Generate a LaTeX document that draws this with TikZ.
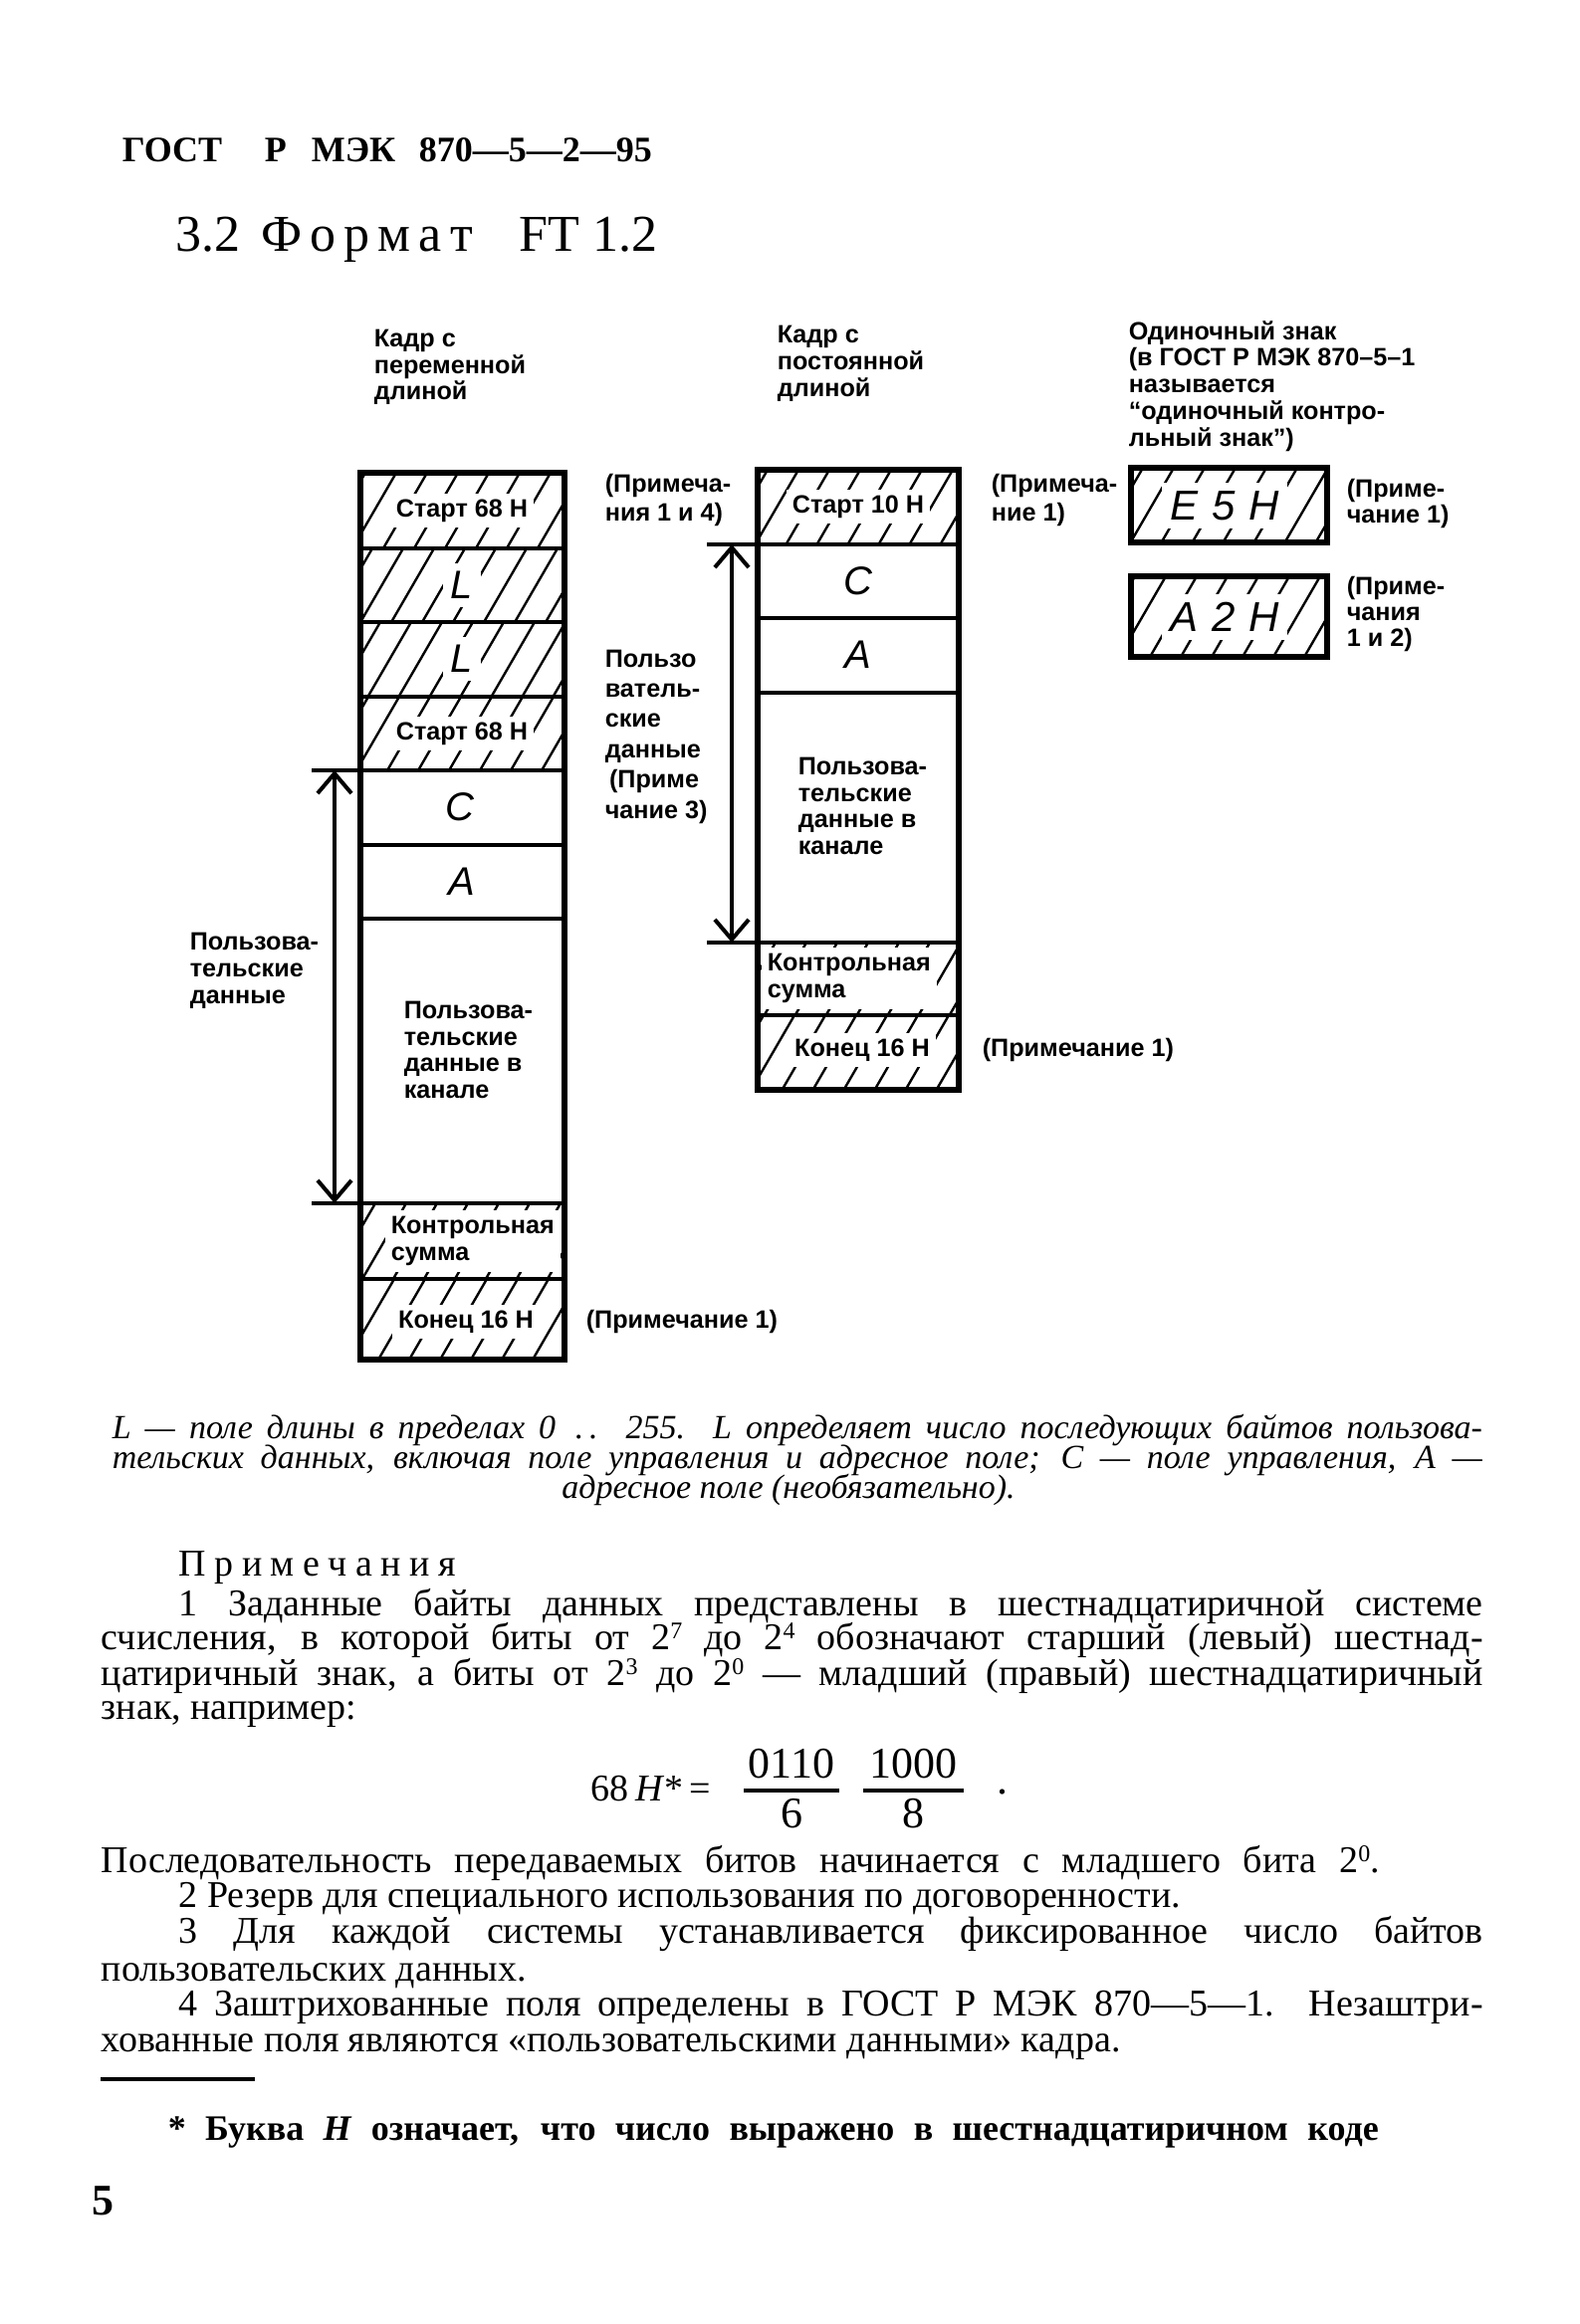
\documentclass[tikz,border=0pt]{standalone}
\usepackage{fontspec}
\usepackage{graphicx}
\setmainfont{Liberation Serif}
\setsansfont{Liberation Sans}
\newfontfamily\bodyfont{Liberation Serif}
\usetikzlibrary{arrows.meta}

\newcommand{\supnum}[1]{\raisebox{0.62ex}{\fontsize{6}{6}\selectfont #1}}

\tikzset{
  frame/.style={line width=1.3pt},
  divider/.style={line width=1pt},
  hatchline/.style={line width=0.6pt},
  lab/.style={font=\sffamily\bfseries\fontsize{6.3}{#1}\selectfont, align=left, inner sep=0pt, anchor=west},
  lab/.default=6.7,
  intext/.style={font=\sffamily\bfseries\fontsize{6.3}{6.7}\selectfont, align=left, fill=white, inner sep=1.5pt},
  letter/.style={font=\sffamily\itshape\fontsize{10}{12}\selectfont, fill=white, inner sep=2pt},
  bigletter/.style={font=\sffamily\itshape\fontsize{10.5}{12}\selectfont, fill=white, inner sep=2pt},
  bodyline/.style={font=\bodyfont\fontsize{9.5}{11}\selectfont, inner sep=0pt, anchor=mid west},
  capline/.style={font=\bodyfont\itshape\fontsize{8.5}{10}\selectfont, inner sep=0pt, anchor=mid west},
  headtext/.style={font=\bfseries\fontsize{9}{11}\selectfont, anchor=mid west, inner sep=0pt},
  titletext/.style={font=\fontsize{13}{15}\selectfont, anchor=mid west, inner sep=0pt},
  fractext/.style={font=\bodyfont\fontsize{11}{13}\selectfont, inner sep=0pt},
  dimarrow/.style={line width=1pt, {Straight Barb[length=5pt,width=8.5pt]}-{Straight Barb[length=5pt,width=8.5pt]}},
}

\newcommand{\hatchzone}[5]{%
  \begin{scope}
    \clip (#1,#2) rectangle (#3,#4);
    \pgfmathsetmacro{\hh}{#4-#2}
    \pgfmathsetmacro{\dd}{0.58*\hh}
    \foreach \k in {0,...,11}{
      \draw[hatchline] ({#1-\dd+#5+\k*31},#4) -- ++(\dd,-\hh);
    }
  \end{scope}}

\begin{document}
\begin{tikzpicture}[x=0.25pt,y=-0.25pt]
\fill[white] (0,0) rectangle (1586,2335);
\useasboundingbox (0,0) rectangle (1586,2335);

% ---------- heading ----------
\node[headtext] (h1) at (122,153) {ГОСТ};
\node[headtext] (h2) at (265,153) {Р};
\node[headtext] (h3) at (312,153) {МЭК};
\node[headtext] (h4) at (420,153) {870—5—2—95};

\node[titletext] (t1) at (176,243) {3.2};
\node[titletext] (t2) at (262,243) {\makebox[53pt]{Ф\hfill о\hfill р\hfill м\hfill а\hfill т}};
\node[titletext] (t3) at (521,243) {FT 1.2};

% ---------- column titles ----------
\node[lab=6.6] (ttl1) at (375,369) {Кадр с\\переменной\\длиной};
\node[lab=6.75] (ttl2) at (780,365) {Кадр с\\постоянной\\длиной};
\node[lab=6.7] (ttl3) at (1133,388) {Одиночный знак\\(в ГОСТ Р МЭК 870–5–1\\называется\\“одиночный контро-\\льный знак”)};

% ---------- hatching ----------
\hatchzone{362}{475}{567}{551}{5}
\hatchzone{362}{551}{567}{625}{12}
\hatchzone{362}{625}{567}{700}{20}
\hatchzone{362}{700}{567}{774}{8}
\hatchzone{362}{1209}{567}{1285}{15}
\hatchzone{362}{1285}{567}{1366}{3}
\hatchzone{761}{472}{963}{547}{10}
\hatchzone{761}{947}{963}{1020}{18}
\hatchzone{761}{1020}{963}{1095}{6}
\hatchzone{1136}{470}{1333}{545}{12}
\hatchzone{1136}{579}{1333}{660}{4}

% ---------- left frame texts ----------
\node[intext] (a1) at (464,513) {Старт 68 Н};
\node[letter] (a2) at (464,588) {L};
\node[letter] (a3) at (464,662) {L};
\node[intext] (a4) at (464,737) {Старт 68 Н};
\node[letter] (a5) at (462,811) {C};
\node[letter] (a6) at (464,886) {A};
\node[lab=6.67] (a7) at (405,1055) {Пользова-\\тельские\\данные в\\канале};
\node[intext, anchor=west] (a8) at (386,1247) {Контрольная\\сумма};
\node[intext] (a9) at (468,1328) {Конец 16 Н};

% ---------- middle frame texts ----------
\node[intext] (b1) at (862,509) {Старт 10 Н};
\node[letter] (b2) at (862,584) {C};
\node[letter] (b3) at (862,658) {A};
\node[lab=6.67] (b4) at (801,810) {Пользова-\\тельские\\данные в\\канале};
\node[intext, anchor=west] (b5) at (764,983) {Контрольная\\сумма};
\node[intext] (b6) at (866,1055) {Конец 16 Н};

% ---------- single characters ----------
\node[bigletter] (c1) at (1230,508) {E\,\,5\,\,H};
\node[bigletter] (c2) at (1230,620) {A\,\,2\,\,H};

% ---------- frames ----------
\draw[frame] (362,475) rectangle (567,1366);
\foreach \yy in {551,625,700,849,923,1285}{\draw[divider] (362,\yy) -- (567,\yy);}
\coordinate (LTe) at (313,774);
\coordinate (LBe) at (313,1209);
\draw[divider] (LTe) -- (567,774);
\draw[divider] (LBe) -- (567,1209);

\draw[frame] (761,472) rectangle (963,1095);
\foreach \yy in {621,696,1020}{\draw[divider] (761,\yy) -- (963,\yy);}
\coordinate (MTe) at (710,547);
\coordinate (MBe) at (710,947);
\draw[divider] (MTe) -- (963,547);
\draw[divider] (MBe) -- (963,947);

\draw[frame] (1136,470) rectangle (1333,545);
\draw[frame] (1136,579) rectangle (1333,660);

% ---------- dimension arrows ----------
\coordinate (LT) at (336,774);
\coordinate (LB) at (336,1209);
\draw[dimarrow] (LT) -- (LB);
\coordinate (MT) at (735,547);
\coordinate (MB) at (735,947);
\draw[dimarrow] (MT) -- (MB);

% ---------- side labels ----------
\node[lab=7.25] (n1) at (607,502) {(Примеча-\\ния 1 и 4)};
\node[lab=7.6] (n2) at (607,740) {Пользо\\ватель-\\ские\\данные\\\,(Приме\\чание 3)};
\node[lab=6.75] (n3) at (190,975) {Пользова-\\тельские\\данные};
\node[lab] (n4) at (588,1328) {(Примечание 1)};
\node[lab=7.25] (n5) at (995,502) {(Примеча-\\ние 1)};
\node[lab] (n6) at (986,1055) {(Примечание 1)};
\node[lab=6.6] (n7) at (1352,506) {(Приме-\\чание 1)};
\node[lab=6.6] (n8) at (1352,617) {(Приме-\\чания\\1 и 2)};

% ---------- caption ----------
\node[capline] (cap1) at (112,1436) {\makebox[344pt][s]{\textit{L} — поле длины в пределах 0\, .\,. 255. \textit{L} определяет число последующих байтов пользова-}};
\node[capline] (cap2) at (112,1466) {\makebox[344pt][s]{тельских данных, включая поле управления и адресное поле; \textit{C} — поле управления, \textit{A} —}};
\node[capline, anchor=mid] (cap3) at (792,1496) {адресное поле (необязательно).};

% ---------- notes ----------
\node[bodyline] (p0) at (179,1574) {\makebox[69.5pt]{П\hfill р\hfill и\hfill м\hfill е\hfill ч\hfill а\hfill н\hfill и\hfill я}};
\node[bodyline] (p1) at (179,1614) {\makebox[327.5pt][s]{1 Заданные байты данных представлены в шестнадцатиричной системе}};
\node[bodyline] (p2) at (101,1648) {\makebox[347pt][s]{счисления, в которой биты от 2\supnum{7} до 2\supnum{4} обозначают старший (левый) шестнад-}};
\node[bodyline] (p3) at (101,1684) {\makebox[347pt][s]{цатиричный знак, а биты от 2\supnum{3} до 2\supnum{0} — младший (правый) шестнадцатиричный}};
\node[bodyline] (p4) at (101,1718) {знак, например:};

\node[bodyline] (f0) at (593,1800) {68\,\textit{H}*\,=};
\node[fractext] (fn1) at (795,1772) {0110};
\node[fractext] (fd1) at (795,1822) {6};
\node[fractext] (fn2) at (917,1772) {1000};
\node[fractext] (fd2) at (917,1822) {8};
\coordinate (b1l) at (747,1799); \coordinate (b1r) at (843,1799);
\coordinate (b2l) at (867,1799); \coordinate (b2r) at (968,1799);
\draw[line width=0.9pt] (b1l) -- (b1r);
\draw[line width=0.9pt] (b2l) -- (b2r);
\node[fractext] (fdot) at (1007,1800) {.};

\node[bodyline] (p5) at (101,1872) {\makebox[321pt][s]{Последовательность передаваемых битов начинается с младшего бита 2\supnum{0}.}};
\node[bodyline] (p6) at (179,1907) {2 Резерв для специального использования по договоренности.};
\node[bodyline] (p7) at (179,1943) {\makebox[327.5pt][s]{3 Для каждой системы устанавливается фиксированное число байтов}};
\node[bodyline] (p8) at (101,1981) {пользовательских данных.};
\node[bodyline] (p9) at (179,2016) {\makebox[327.5pt][s]{4 Заштрихованные поля определены в ГОСТ Р МЭК 870—5—1. Незаштри-}};
\node[bodyline] (p10) at (101,2052) {хованные поля являются «пользовательскими данными» кадра.};

\coordinate (rl) at (101,2089); \coordinate (rr) at (256,2089);
\draw[line width=1.1pt] (rl) -- (rr);

\node[bodyline, font=\bodyfont\bfseries\fontsize{9}{11}\selectfont] (fn) at (168,2141) {\makebox[304pt][s]{* Буква \textit{H} означает, что число выражено в шестнадцатиричном коде}};

\node[font=\bfseries\fontsize{11}{13}\selectfont, anchor=mid west, inner sep=0pt] (pg) at (92,2216) {5};
\end{tikzpicture}
\end{document}
